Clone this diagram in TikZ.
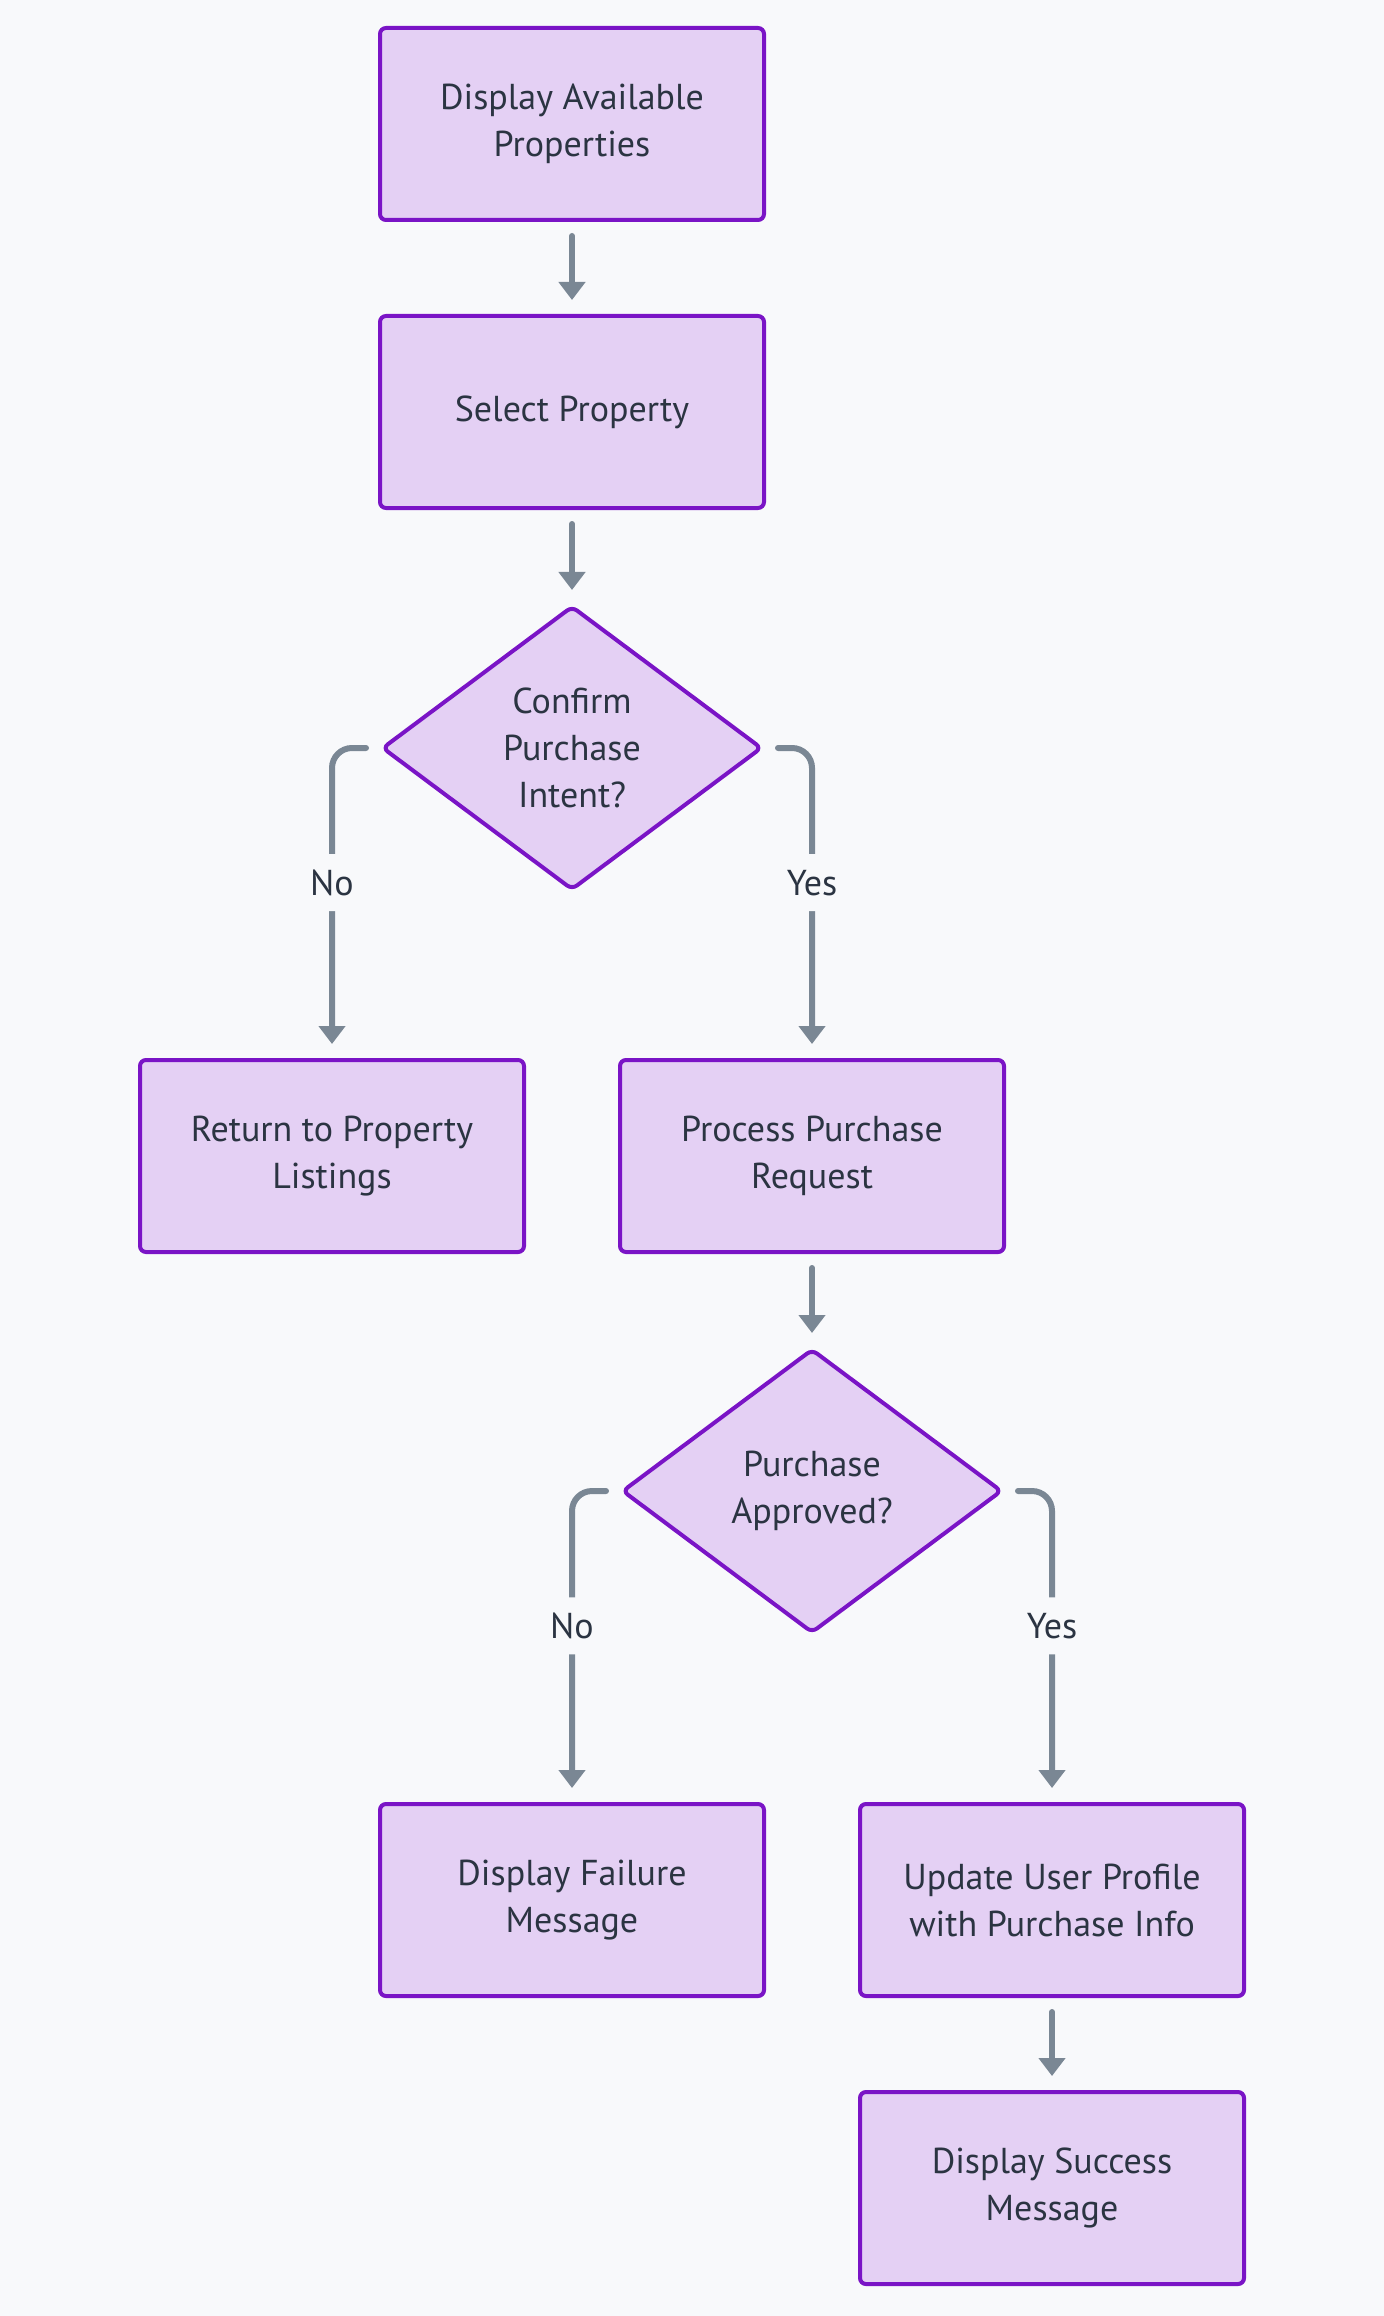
\documentclass[tikz,border=0pt]{standalone}
\usepackage{fontspec}
\setmainfont{PT Sans}
\usetikzlibrary{shapes.geometric}
\usetikzlibrary{arrows.meta}
\definecolor{pagebg}{HTML}{F8F9FB}
\definecolor{boxfill}{HTML}{E4D0F4}
\definecolor{boxline}{HTML}{7A14C6}
\definecolor{edgecol}{HTML}{7A8794}
\definecolor{txtcol}{HTML}{2B3442}
\tikzstyle{stepbox}=[
        rectangle,
        draw=boxline,
        fill=boxfill,
        line width=2pt,
        rounded corners=3pt,
        minimum width=192pt,
        minimum height=96pt,
        align=center,
        text=txtcol,
        font=\fontsize{18pt}{23.5pt}\selectfont
]
\tikzstyle{decision}=[diamond,draw=boxline,fill=boxfill,line width=2pt,
rounded corners=3pt,minimum width=190pt,minimum height=142pt,inner sep=0pt,
align=center,text=txtcol,font=\fontsize{18pt}{23.5pt}\selectfont]
\tikzstyle{lbl}=[fill=pagebg,text=txtcol,inner xsep=2pt,inner ysep=8pt,
text height=12.5pt,text depth=0pt,font=\fontsize{18pt}{23.5pt}\selectfont]
\tikzstyle{flow}=[-{Triangle[width=13pt,length=9pt]},draw=edgecol,line width=3pt,
line cap=round,rounded corners=10pt,shorten <=7pt,shorten >=7pt]

\begin{document}
\begin{tikzpicture}[x=0.5pt,y=-0.5pt]
\fill[pagebg] (0,0) rectangle (1384,2316);
\useasboundingbox (0,0) rectangle (1384,2316);
\node[stepbox] (disp) at (572,124) {Display Available\\Properties};
\node[stepbox] (sel) at (572,412) {Select Property};
\node[decision] (conf) at (572,748) {Confirm\\Purchase\\Intent?};
\node[stepbox] (ret) at (332,1156) {Return to Property\\Listings};
\node[stepbox] (proc) at (812,1156) {Process Purchase\\Request};
\node[decision] (appr) at (812,1491) {Purchase\\Approved?};
\node[stepbox] (fail) at (572,1900) {Display Failure\\Message};
\node[stepbox] (upd) at (1052,1900) {Update User Profile\\with Purchase Info};
\node[stepbox] (succ) at (1052,2188) {Display Success\\Message};
%Drawing Edges
\draw[flow] (disp) -- (sel);
\draw[flow] (sel) -- (conf);
\draw[flow] (conf.west) -| (ret.north) node[lbl,pos=0.717]{No};
\draw[flow] (conf.east) -| (proc.north) node[lbl,pos=0.717]{Yes};
\draw[flow] (proc) -- (appr);
\draw[flow] (appr.west) -| (fail.north) node[lbl,pos=0.717]{No};
\draw[flow] (appr.east) -| (upd.north) node[lbl,pos=0.717]{Yes};
\draw[flow] (upd) -- (succ);
\end{tikzpicture}
\end{document}
